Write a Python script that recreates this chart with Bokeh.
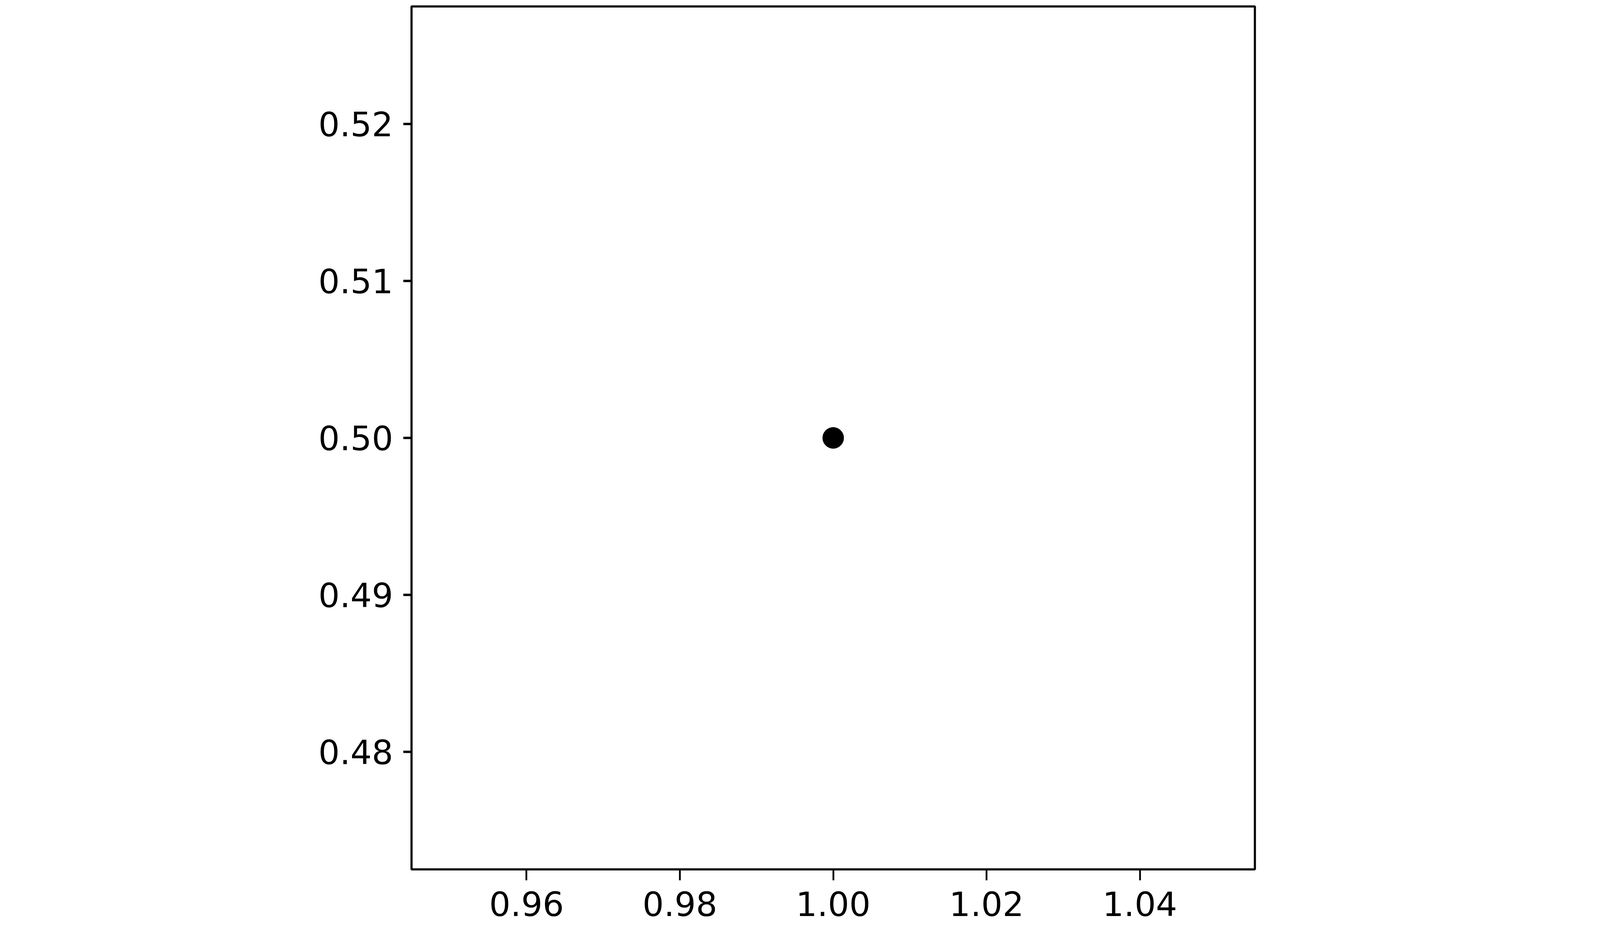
from bokeh.plotting import figure
from bokeh.models import FixedTicker, Range1d
from bokeh.embed import file_html
from bokeh.resources import INLINE

# Data
point_x = [1.0]
point_y = [0.5]
x_ticks = [0.96, 0.98, 1.00, 1.02, 1.04]
x_tick_labels = ["0.96", "0.98", "1.00", "1.02", "1.04"]
y_ticks = [0.48, 0.49, 0.50, 0.51, 0.52]
y_tick_labels = ["0.48", "0.49", "0.50", "0.51", "0.52"]
x_limits = (0.945, 1.055)
y_limits = (0.4725, 0.5275)

p = figure(
    output_backend="svg",
    toolbar_location=None,
    width=4090,
    height=2376,
    min_border_left=1053,
    min_border_top=16,
    min_border_right=878,
    min_border_bottom=150,
    x_range=Range1d(*x_limits),
    y_range=Range1d(*y_limits),
    background_fill_color="white",
    border_fill_color="white",
)

p.scatter(point_x, point_y, size=54, marker="circle",
          fill_color="black", line_color="black")

p.grid.visible = False
p.outline_line_color = "black"
p.outline_line_width = 5.5

p.xaxis.ticker = FixedTicker(ticks=x_ticks)
p.yaxis.ticker = FixedTicker(ticks=y_ticks)
p.xaxis.major_label_overrides = {t: l for t, l in zip(x_ticks, x_tick_labels)}
p.yaxis.major_label_overrides = {t: l for t, l in zip(y_ticks, y_tick_labels)}

for ax in (p.xaxis[0], p.yaxis[0]):
    ax.axis_line_color = None
    ax.major_tick_line_color = "black"
    ax.major_tick_in = 0
    ax.minor_tick_line_color = None
    ax.major_label_text_font = "DejaVu Sans"
    ax.major_label_text_font_size = "86px"
    ax.major_label_text_color = "black"
    ax.major_label_text_font_style = "normal"

p.xaxis.major_tick_out = 28
p.xaxis.major_tick_line_width = 4.5
p.xaxis.major_label_standoff = 28

p.yaxis.major_tick_out = 21
p.yaxis.major_tick_line_width = 6
p.yaxis.major_label_standoff = 26

open("out.html", "w").write(file_html(p, INLINE))
